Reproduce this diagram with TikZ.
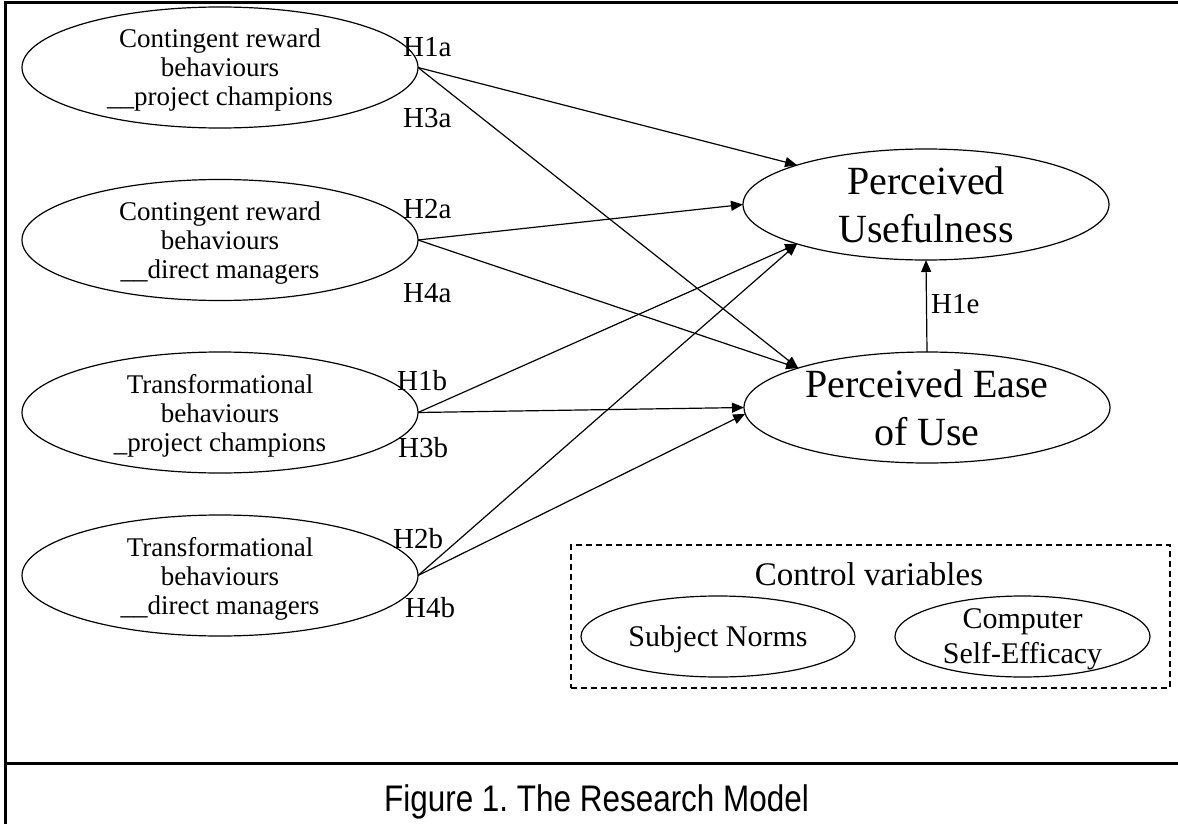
\documentclass[tikz,border=0pt]{standalone}
\usepackage{fontspec}
\setmainfont{Liberation Serif}
\newfontfamily\capfont[FakeStretch=0.85]{Liberation Sans}
\usetikzlibrary{shapes.geometric,arrows.meta}
\begin{document}
\begin{tikzpicture}[x=1pt,y=-1pt,
  ell/.style={draw, ellipse, line width=1.2pt, inner sep=0pt, outer sep=0pt},
  lft/.style={ell, minimum width=396pt, minimum height=121pt},
  lfttxt/.style={font=\fontsize{27}{29}\selectfont, align=center, yshift=-3pt},
  big/.style={ell, minimum width=366pt, minimum height=111pt},
  bigtxt/.style={font=\fontsize{40}{48}\selectfont, align=center},
  small/.style={ell, minimum height=81pt},
  smalltxt/.style={font=\fontsize{30}{35}\selectfont, align=center, yshift=-3pt},
  arr/.style={line width=1.2pt, -{Triangle[length=12pt,width=10pt]}},
  hlab/.style={font=\fontsize{29}{30}\selectfont, anchor=base west, inner sep=0pt},
  frame/.style={line width=3pt},
]
\useasboundingbox (0,0) rectangle (1178,824);

% frame
\draw[frame] (1178,2.5) -- (5,2.5) -- (5,824);
\draw[frame] (5,763) -- (1178,763);

% left constructs
\node[lft, label={[lfttxt]center:Contingent reward\\behaviours\\\_\_project champions}] (e1) at (220,67.5) {};
\node[lft, label={[lfttxt]center:Contingent reward\\behaviours\\\_\_direct managers}] (e2) at (220,240) {};
\node[lft, label={[lfttxt]center:Transformational\\behaviours\\\_project champions}] (e3) at (220,412.5) {};
\node[lft, label={[lfttxt]center:Transformational\\behaviours\\\_\_direct managers}] (e4) at (220,575.5) {};

% right constructs
\node[big, label={[bigtxt]center:Perceived\\Usefulness}] (pu) at (926,204.5) {};
\node[big, label={[bigtxt]center:Perceived Ease\\of Use}] (peu) at (927,407.5) {};

% arrows
\draw[arr] (e1.east) -- (pu.163);
\draw[arr] (e1.east) -- (peu.163);
\draw[arr] (e2.east) -- (pu.west);
\draw[arr] (e2.east) -- (peu.163);
\draw[arr] (e3.east) -- (pu.197);
\draw[arr] (e3.east) -- (peu.west);
\draw[arr] (e4.east) -- (pu.197);
\draw[arr] (e4.east) -- (peu.182);
\draw[arr] (peu.north) -- (pu.south);

% hypothesis labels
\node[hlab] (h1a) at (403,57) {H1a};
\node[hlab] (h3a) at (403,128) {H3a};
\node[hlab] (h2a) at (403,218) {H2a};
\node[hlab] (h4a) at (403,302) {H4a};
\node[hlab] (h1b) at (397,390) {H1b};
\node[hlab] (h3b) at (398,457) {H3b};
\node[hlab] (h2b) at (393,548) {H2b};
\node[hlab] (h4b) at (405,617) {H4b};
\node[hlab] (h1e) at (931,313) {H1e};

% control variables
\node[draw, dash pattern=on 6pt off 4pt, line width=1.8pt, minimum width=599pt, minimum height=143pt, inner sep=0pt] (ctrl) at (870.5,616.5) {};
\node[font=\fontsize{33}{35}\selectfont, anchor=base, inner sep=0pt] (ctrlt) at (869,585) {Control variables};
\node[small, minimum width=274pt, label={[smalltxt]center:Subject Norms}] (sn) at (718,636.5) {};
\node[small, minimum width=255pt, label={[smalltxt]center:Computer\\Self-Efficacy}] (cse) at (1022.5,636.5) {};

% caption
\node[font=\capfont\fontsize{37}{40}\selectfont, anchor=base, inner sep=0pt] (cap) at (596.5,811.4) {Figure 1.\ The Research Model};
\end{tikzpicture}
\end{document}
